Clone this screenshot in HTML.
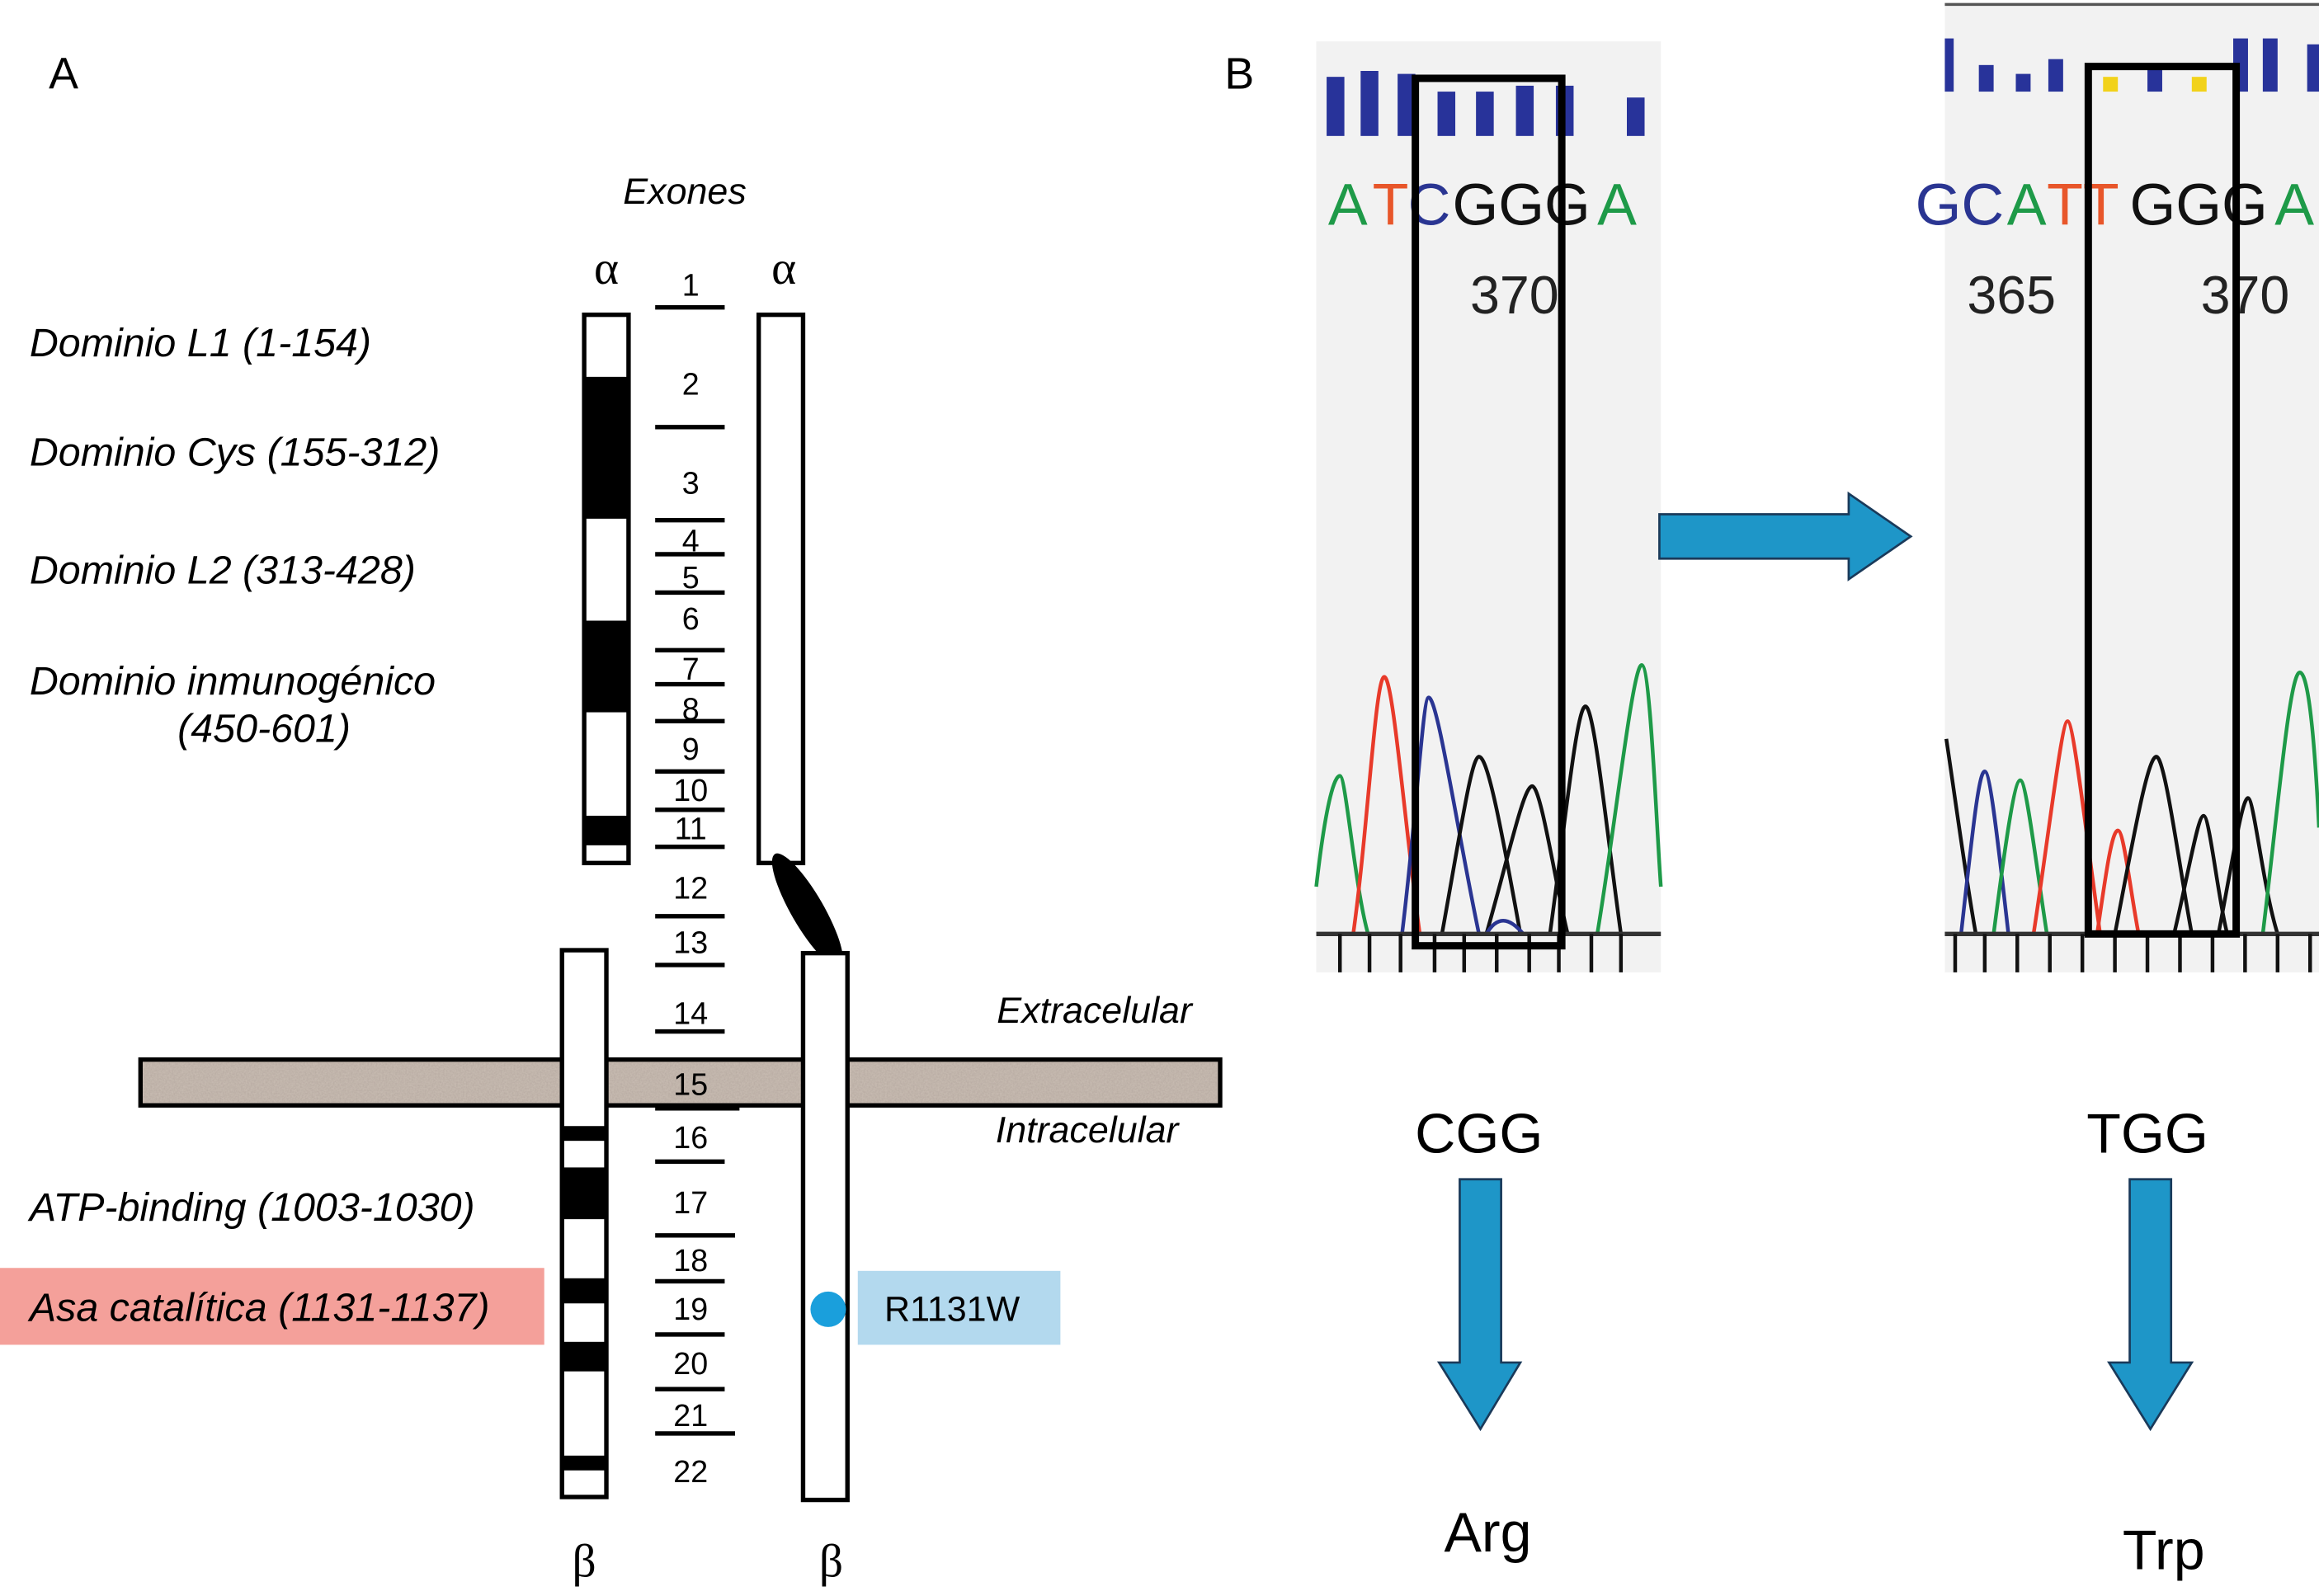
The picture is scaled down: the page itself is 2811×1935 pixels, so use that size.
<!DOCTYPE html>
<html><head><meta charset="utf-8"><style>html,body{margin:0;padding:0;background:#fff}svg{display:block}</style></head>
<body>
<svg width="2811" height="1935" viewBox="0 0 1568 1080" preserveAspectRatio="none" xmlns="http://www.w3.org/2000/svg" font-family="Liberation Sans, sans-serif">
<defs>
<filter id="n" x="0" y="0" width="1" height="1"><feTurbulence type="fractalNoise" baseFrequency="0.9" numOctaves="2"/><feColorMatrix values="0 0 0 0 0.45  0 0 0 0 0.38  0 0 0 0 0.34  0 0 0 -1.4 1.2"/></filter>
</defs>
<text x="33" y="60" font-size="30">A</text>
<text x="828" y="60" font-size="30">B</text>
<text x="463" y="138" font-size="25" font-style="italic" text-anchor="middle">Exones</text>
<text x="410" y="192" font-size="32" font-family="Liberation Serif, serif" text-anchor="middle">α</text>
<text x="530" y="192" font-size="32" font-family="Liberation Serif, serif" text-anchor="middle">α</text>
<g font-size="27" font-style="italic">
<text x="20" y="241">Dominio L1 (1-154)</text>
<text x="20" y="315">Dominio Cys (155-312)</text>
<text x="20" y="395">Dominio L2 (313-428)</text>
<text x="20" y="470">Dominio inmunogénico</text>
<text x="120" y="502">(450-601)</text>
<text x="20" y="826">ATP-binding (1003-1030)</text>
</g>
<rect x="0" y="858" width="368" height="52" fill="#f4a09a"/>
<text x="20" y="894" font-size="27" font-style="italic">Asa catalítica (1131-1137)</text>
<!-- membrane -->
<rect x="95" y="717" width="730" height="31" fill="#c8bcb2" stroke="#000" stroke-width="3"/>
<rect x="97" y="719" width="726" height="27" filter="url(#n)" opacity="0.7"/>
<text x="740" y="692" font-size="25" font-style="italic" text-anchor="middle">Extracelular</text>
<text x="735" y="773" font-size="25" font-style="italic" text-anchor="middle">Intracelular</text>
<!-- alpha bars -->
<rect x="395" y="213" width="30" height="371" fill="#fff" stroke="#000" stroke-width="3"/>
<rect x="395" y="255" width="30" height="96" fill="#000"/>
<rect x="395" y="420" width="30" height="62" fill="#000"/>
<rect x="395" y="552" width="30" height="20" fill="#000"/>
<rect x="513" y="213" width="30" height="371" fill="#fff" stroke="#000" stroke-width="3"/>
<ellipse cx="546" cy="616" rx="11" ry="44" transform="rotate(-30 546 616)" fill="#000"/>
<!-- beta bars -->
<rect x="380" y="643" width="30" height="370" fill="#fff" stroke="#000" stroke-width="3"/>
<rect x="380" y="762" width="30" height="10" fill="#000"/>
<rect x="380" y="790" width="30" height="35" fill="#000"/>
<rect x="380" y="865" width="30" height="17" fill="#000"/>
<rect x="380" y="908" width="30" height="20" fill="#000"/>
<rect x="380" y="985" width="30" height="10" fill="#000"/>
<rect x="543" y="645" width="30" height="370" fill="#fff" stroke="#000" stroke-width="3"/>
<circle cx="560" cy="886" r="12" fill="#1a9fdc"/>
<rect x="580" y="860" width="137" height="50" fill="#b3d9ee"/>
<text x="598" y="894" font-size="24">R1131W</text>
<text x="395" y="1067" font-size="32" font-family="Liberation Serif, serif" text-anchor="middle">β</text>
<text x="562" y="1067" font-size="32" font-family="Liberation Serif, serif" text-anchor="middle">β</text>
<!-- exon lines -->
<g stroke="#000" stroke-width="3">
<line x1="443" y1="208" x2="490" y2="208"/><line x1="443" y1="289" x2="490" y2="289"/>
<line x1="443" y1="352" x2="490" y2="352"/><line x1="443" y1="375" x2="490" y2="375"/>
<line x1="443" y1="401" x2="490" y2="401"/><line x1="443" y1="440" x2="490" y2="440"/>
<line x1="443" y1="463" x2="490" y2="463"/><line x1="443" y1="488" x2="490" y2="488"/>
<line x1="443" y1="522" x2="490" y2="522"/><line x1="443" y1="548" x2="490" y2="548"/>
<line x1="443" y1="573" x2="490" y2="573"/><line x1="443" y1="620" x2="490" y2="620"/>
<line x1="443" y1="653" x2="490" y2="653"/><line x1="443" y1="698" x2="490" y2="698"/>
<line x1="443" y1="750" x2="500" y2="750"/><line x1="443" y1="786" x2="490" y2="786"/>
<line x1="443" y1="836" x2="497" y2="836"/><line x1="443" y1="867" x2="490" y2="867"/>
<line x1="443" y1="903" x2="490" y2="903"/><line x1="443" y1="940" x2="490" y2="940"/>
<line x1="443" y1="970" x2="497" y2="970"/>
</g>
<g font-size="21" text-anchor="middle">
<text x="467" y="200">1</text><text x="467" y="267">2</text><text x="467" y="334">3</text>
<text x="467" y="373">4</text><text x="467" y="398">5</text><text x="467" y="426">6</text>
<text x="467" y="460">7</text><text x="467" y="487">8</text><text x="467" y="514">9</text>
<text x="467" y="542">10</text><text x="467" y="568">11</text><text x="467" y="608">12</text>
<text x="467" y="645">13</text><text x="467" y="693">14</text><text x="467" y="741">15</text>
<text x="467" y="777">16</text><text x="467" y="821">17</text><text x="467" y="860">18</text>
<text x="467" y="893">19</text><text x="467" y="930">20</text><text x="467" y="965">21</text>
<text x="467" y="1003">22</text>
</g>
<!-- chromatogram 1 -->
<rect x="890" y="28" width="233" height="630" fill="#f2f2f2"/>
<g fill="#28339a">
<rect x="897" y="52" width="12" height="40"/><rect x="920" y="48" width="12" height="44"/>
<rect x="945" y="50" width="12" height="42"/><rect x="972" y="62" width="12" height="30"/>
<rect x="998" y="62" width="12" height="30"/><rect x="1025" y="58" width="12" height="34"/>
<rect x="1052" y="58" width="12" height="34"/><rect x="1100" y="66" width="12" height="26"/>
</g>
<g font-size="40">
<text x="898" y="152" fill="#1e9a48">A</text><text x="928" y="152" fill="#e8562a">T</text>
<text x="952" y="152" fill="#2a3592">C</text><text x="982" y="152" fill="#111">GGG</text>
<text x="1080" y="152" fill="#1e9a48">A</text>
</g>
<text x="994" y="212" font-size="36" fill="#222">370</text>
<g fill="none" stroke-width="2.5">
<path d="M890 600 C898 530 904 525 906 525 C910 525 916 600 925 632" stroke="#1e9a48"/>
<path d="M915 632 C925 560 930 458 936 458 C942 458 950 560 960 632" stroke="#e83a2a"/>
<path d="M948 632 C958 550 962 472 966 472 C972 472 985 560 1000 632" stroke="#2a3592"/>
<path d="M975 632 C988 560 995 512 1000 512 C1006 512 1015 560 1028 632" stroke="#111"/>
<path d="M1005 632 C1020 580 1030 532 1036 532 C1042 532 1052 600 1060 632" stroke="#111"/>
<path d="M1048 632 C1058 560 1066 478 1072 478 C1078 478 1086 560 1096 632" stroke="#111"/>
<path d="M1080 632 C1092 560 1104 450 1110 450 C1116 450 1120 560 1123 600" stroke="#1e9a48"/>
<path d="M1005 632 C1012 620 1020 620 1030 632" stroke="#2a3592"/>
</g>
<line x1="890" y1="632" x2="1123" y2="632" stroke="#333" stroke-width="3"/>
<g stroke="#111" stroke-width="2.5">
<line x1="906" y1="632" x2="906" y2="658"/><line x1="926" y1="632" x2="926" y2="658"/>
<line x1="947" y1="632" x2="947" y2="658"/><line x1="970" y1="632" x2="970" y2="658"/>
<line x1="990" y1="632" x2="990" y2="658"/><line x1="1012" y1="632" x2="1012" y2="658"/>
<line x1="1034" y1="632" x2="1034" y2="658"/><line x1="1054" y1="632" x2="1054" y2="658"/>
<line x1="1076" y1="632" x2="1076" y2="658"/><line x1="1096" y1="632" x2="1096" y2="658"/>
</g>
<rect x="957" y="53" width="99" height="587" fill="none" stroke="#000" stroke-width="5"/>
<!-- chromatogram 2 -->
<rect x="1315" y="4" width="253" height="654" fill="#f2f2f2"/>
<line x1="1315" y1="3" x2="1568" y2="3" stroke="#555" stroke-width="2"/>
<g fill="#28339a">
<rect x="1315" y="26" width="6" height="36"/><rect x="1338" y="44" width="10" height="18"/>
<rect x="1363" y="50" width="10" height="12"/><rect x="1385" y="40" width="10" height="22"/>
<rect x="1452" y="46" width="10" height="16"/><rect x="1510" y="26" width="10" height="36"/>
<rect x="1530" y="26" width="10" height="36"/><rect x="1560" y="30" width="8" height="32"/>
</g>
<g fill="#f2d21a"><rect x="1422" y="52" width="10" height="10"/><rect x="1482" y="52" width="10" height="10"/></g>
<g font-size="40">
<text x="1295" y="152" fill="#2a3592">GC</text><text x="1357" y="152" fill="#1e9a48">A</text>
<text x="1384" y="152" fill="#e8562a">TT</text><text x="1440" y="152" fill="#111">GGG</text>
<text x="1538" y="152" fill="#1e9a48">A</text>
</g>
<text x="1330" y="212" font-size="36" fill="#222">365</text>
<text x="1488" y="212" font-size="36" fill="#222">370</text>
<g fill="none" stroke-width="2.5">
<path d="M1316 500 C1322 540 1330 600 1336 632" stroke="#111"/>
<path d="M1326 632 C1334 560 1338 522 1342 522 C1346 522 1352 580 1358 632" stroke="#2a3592"/>
<path d="M1348 632 C1356 570 1362 528 1366 528 C1370 528 1376 580 1384 632" stroke="#1e9a48"/>
<path d="M1375 632 C1386 560 1394 488 1398 488 C1402 488 1410 560 1420 632" stroke="#e83a2a"/>
<path d="M1418 632 C1424 590 1428 562 1432 562 C1436 562 1440 600 1446 632" stroke="#e83a2a"/>
<path d="M1430 632 C1442 570 1452 512 1458 512 C1464 512 1474 590 1482 632" stroke="#111"/>
<path d="M1470 632 C1480 590 1486 552 1490 552 C1494 552 1500 610 1506 632" stroke="#111"/>
<path d="M1500 632 C1510 580 1516 540 1520 540 C1524 540 1530 600 1540 632" stroke="#111"/>
<path d="M1530 632 C1540 550 1548 455 1555 455 C1562 455 1566 520 1568 560" stroke="#1e9a48"/>
</g>
<line x1="1315" y1="632" x2="1568" y2="632" stroke="#333" stroke-width="3"/>
<g stroke="#111" stroke-width="2.5">
<line x1="1322" y1="632" x2="1322" y2="658"/><line x1="1342" y1="632" x2="1342" y2="658"/>
<line x1="1364" y1="632" x2="1364" y2="658"/><line x1="1386" y1="632" x2="1386" y2="658"/>
<line x1="1408" y1="632" x2="1408" y2="658"/><line x1="1430" y1="632" x2="1430" y2="658"/>
<line x1="1452" y1="632" x2="1452" y2="658"/><line x1="1474" y1="632" x2="1474" y2="658"/>
<line x1="1496" y1="632" x2="1496" y2="658"/><line x1="1518" y1="632" x2="1518" y2="658"/>
<line x1="1540" y1="632" x2="1540" y2="658"/><line x1="1562" y1="632" x2="1562" y2="658"/>
</g>
<rect x="1412" y="45" width="100" height="587" fill="none" stroke="#000" stroke-width="5"/>
<!-- arrows -->
<path d="M1122 348 L1250 348 L1250 334 L1292 363 L1250 392 L1250 378 L1122 378 Z" fill="#1e96c8" stroke="#1a3a5a" stroke-width="1.5"/>
<text x="1000" y="780" font-size="38" text-anchor="middle">CGG</text>
<path d="M987 798 L1015 798 L1015 922 L1028 922 L1001 967 L973 922 L987 922 Z" fill="#1e96c8" stroke="#1a3a5a" stroke-width="1.5"/>
<text x="1006" y="1050" font-size="38" text-anchor="middle">Arg</text>
<text x="1452" y="780" font-size="38" text-anchor="middle">TGG</text>
<path d="M1440 798 L1468 798 L1468 922 L1482 922 L1454 967 L1426 922 L1440 922 Z" fill="#1e96c8" stroke="#1a3a5a" stroke-width="1.5"/>
<text x="1463" y="1062" font-size="38" text-anchor="middle">Trp</text>
</svg>
</body></html>
